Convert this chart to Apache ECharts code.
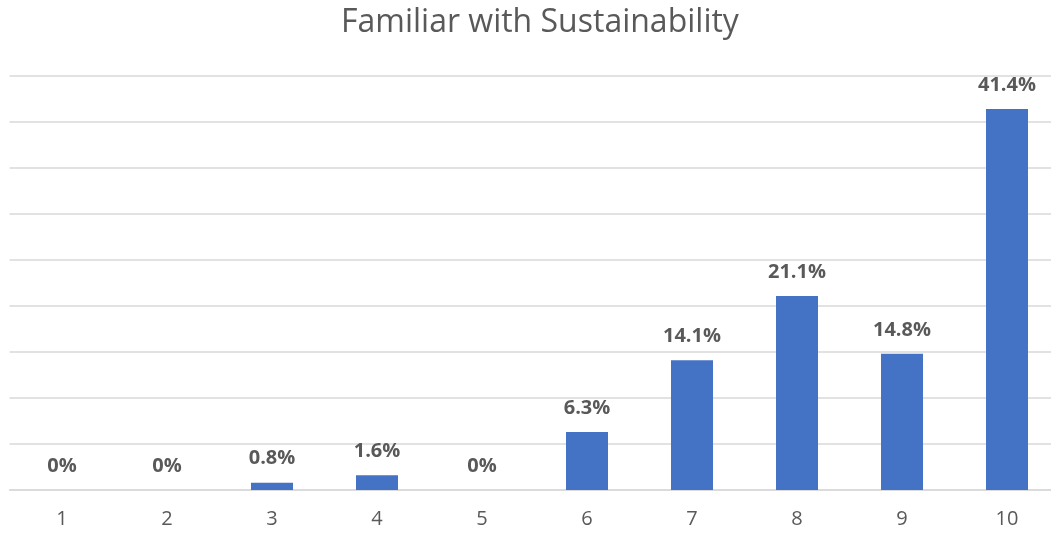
<!DOCTYPE html>
<html>
<head>
<meta charset="utf-8">
<script src="https://cdn.jsdelivr.net/npm/echarts@6/dist/echarts.min.js"></script>
<style>
  html, body { margin: 0; padding: 0; background: #fff; }
  #chart { width: 1051px; height: 535px; }
</style>
</head>
<body>
<div id="chart"></div>
<script>
// Rating scale 1–10 and share of respondents (%) at each rating
const categories = ['1', '2', '3', '4', '5', '6', '7', '8', '9', '10'];
const shares = [0, 0, 0.8, 1.6, 0, 6.3, 14.1, 21.1, 14.8, 41.4];
const chartTitle = 'Familiar with Sustainability';

const textColor = '#595959';
const fontFamily = '"Open Sans", "Liberation Sans", sans-serif';

const chart = echarts.init(document.getElementById('chart'), null, { renderer: 'canvas' });
chart.setOption({
  animation: false,
  backgroundColor: '#ffffff',
  title: {
    text: chartTitle,
    left: 336,  // centred over the plot area rather than the canvas
    top: 2,
    textStyle: { color: textColor, fontSize: 32, fontWeight: 'normal', fontFamily: fontFamily }
  },
  // plot area runs slightly past the right edge of the canvas
  grid: {
    left: 9.5, top: 76, right: -8.5, bottom: 45,
    containLabel: false,
    outerBoundsMode: 'none'
  },
  xAxis: {
    type: 'category',
    data: categories,
    axisLine: { show: true, lineStyle: { color: '#d9d9d9', width: 1.5 } },
    axisTick: { show: false },
    axisLabel: { color: textColor, fontSize: 20, fontFamily: fontFamily, margin: 19 }
  },
  yAxis: {
    type: 'value',
    min: 0,
    max: 45,
    interval: 5,
    axisLine: { show: false },
    axisTick: { show: false },
    axisLabel: { show: false },
    splitLine: { lineStyle: { color: '#d9d9d9', width: 1.5 } }
  },
  series: [{
    type: 'bar',
    data: shares,
    barWidth: '40%',
    itemStyle: { color: '#4472c4' },
    label: {
      show: true,
      position: 'top',
      distance: 14,
      color: textColor,
      fontSize: 20,
      fontWeight: 'bold',
      fontFamily: fontFamily,
      formatter: p => p.value + '%'
    }
  }]
});
</script>
</body>
</html>
